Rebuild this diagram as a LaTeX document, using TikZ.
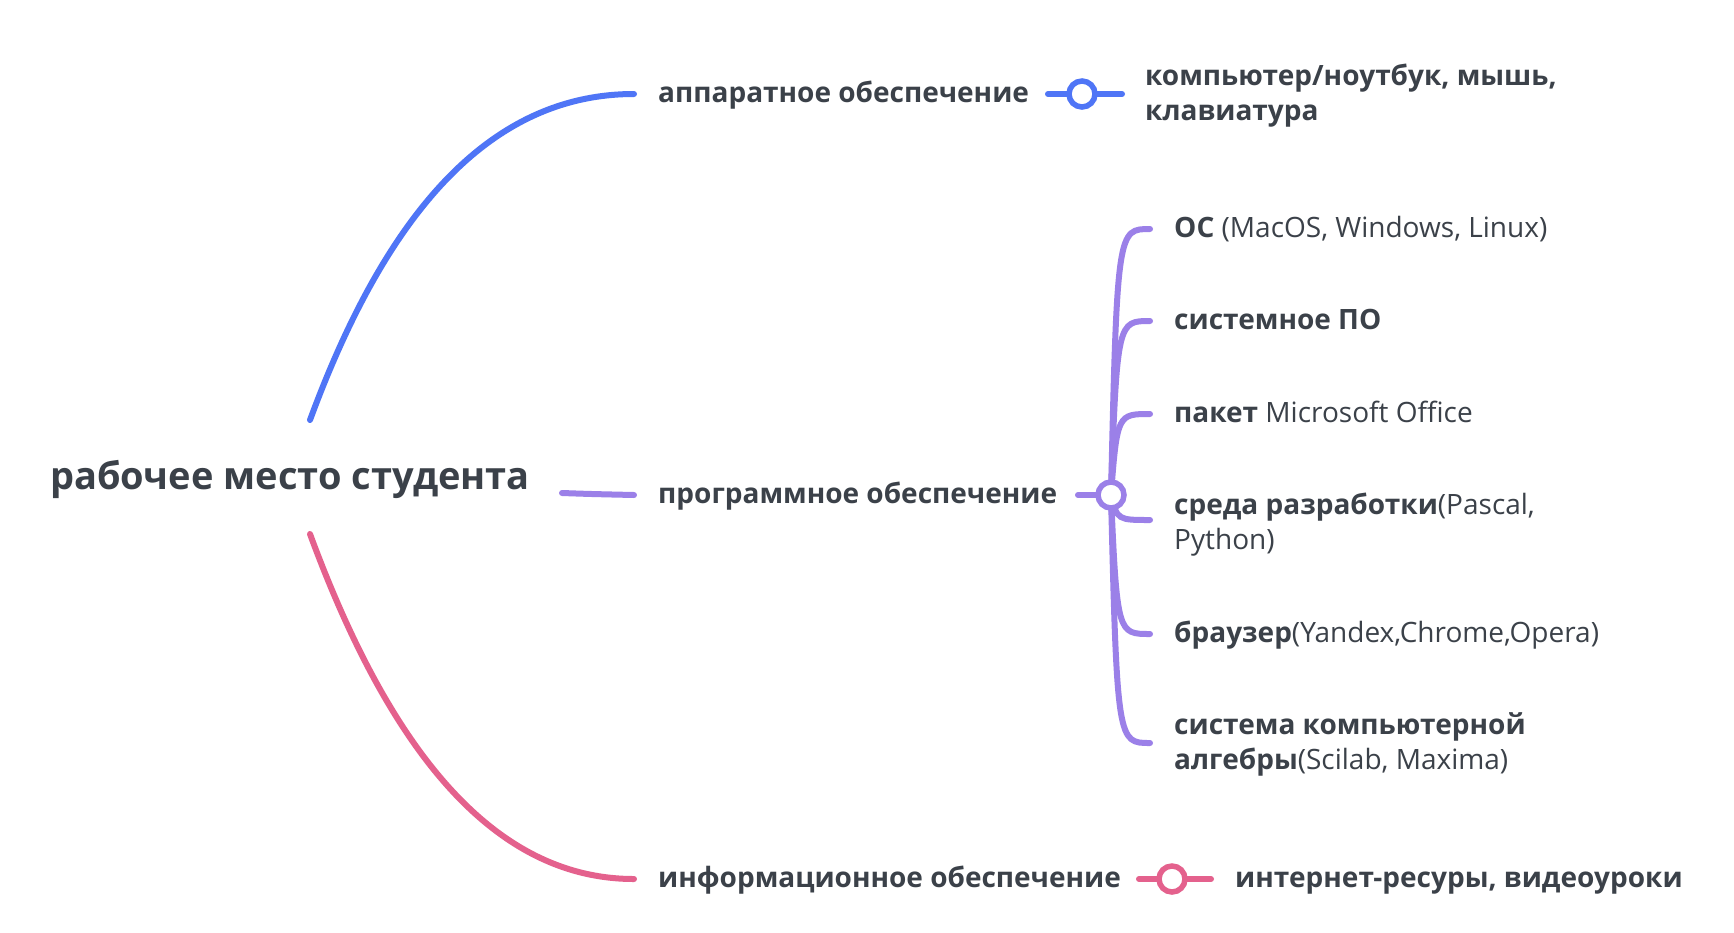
\documentclass[tikz,border=0pt]{standalone}
\usepackage{fontspec}
\setmainfont{Open Sans}
\definecolor{txt}{HTML}{3B4149}
\definecolor{cblue}{HTML}{4F75F6}
\definecolor{cpurple}{HTML}{9B80E8}
\definecolor{cpink}{HTML}{E4618D}
\begin{document}
\begin{tikzpicture}[x=1pt,y=-1pt,
  lbl/.style={anchor=base west,inner sep=0pt,text=txt,font=\fontsize{28}{35}\selectfont,align=left},
  rootlbl/.style={anchor=base,inner sep=0pt,text=txt,font=\bfseries\fontsize{38}{44}\selectfont},
  conn/.style={line width=6pt,line cap=round},
  knob/.style={circle,draw,line width=5.5pt,fill=white,minimum size=26pt,inner sep=0pt}]
\useasboundingbox[fill=white] (0,0) rectangle (1734,932);

% root
\node[rootlbl] (root) at (290,489) {рабочее место студента};
\coordinate (rootN) at (310,420);
\coordinate (rootE) at (562,493);
\coordinate (rootS) at (310,534);

% hardware
\coordinate (hwIn) at (634,94);
\node[lbl] (hw) at (658,102) {\bfseries аппаратное обеспечение};
\draw[conn,cblue] (rootN) .. controls (380,230) and (480,94) .. (hwIn);
\coordinate (hwA) at (1048,94);
\coordinate (hwB) at (1122,94);
\draw[conn,cblue] (hwA) -- (hwB);
\node[knob,draw=cblue] (hwK) at (1082,94) {};
\node[lbl] (hwL) at (1145,120) {\bfseries компьютер/ноутбук, мышь,\\\bfseries клавиатура};

% software
\coordinate (swIn) at (634,495);
\node[lbl] (sw) at (658,503) {\bfseries программное обеспечение};
\draw[conn,cpurple] (rootE) .. controls (590,494) .. (swIn);
\coordinate (swA) at (1078,495);
\draw[conn,cpurple] (swA) -- (1111,495);
\coordinate (swK0) at (1111,495);
\foreach \n/\yy in {e1/229,e2/321,e3/414,e4/520,e5/634,e6/743}{
  \coordinate (\n) at (1150,\yy);
  \draw[conn,cpurple] (swK0) .. controls (1117,\yy) and (1118,\yy) .. (\n);
}
\node[knob,draw=cpurple] (swK) at (1111,495) {};
\node[lbl] (s1) at (1174,237) {\textbf{ОС} (MacOS, Windows, Linux)};
\node[lbl] (s2) at (1174,329) {\textbf{системное ПО}};
\node[lbl] (s3) at (1174,422) {\textbf{пакет} Microsoft Office};
\node[lbl] (s4) at (1174,549) {\textbf{среда разработки}(Pascal,\\Python)};
\node[lbl] (s5) at (1174,642) {\textbf{браузер}(Yandex,Chrome,Opera)};
\node[lbl] (s6) at (1174,769) {\textbf{система компьютерной}\\\textbf{алгебры}(Scilab, Maxima)};

% information
\coordinate (inIn) at (634,879);
\node[lbl] (inf) at (658,887) {\bfseries информационное обеспечение};
\draw[conn,cpink] (rootS) .. controls (380,724) and (480,879) .. (inIn);
\coordinate (inA) at (1139,879);
\coordinate (inB) at (1211,879);
\draw[conn,cpink] (inA) -- (inB);
\node[knob,draw=cpink] (inK) at (1172,879) {};
\node[lbl] (inL) at (1235,887) {\bfseries интернет-ресуры, видеоуроки};
\end{tikzpicture}
\end{document}
